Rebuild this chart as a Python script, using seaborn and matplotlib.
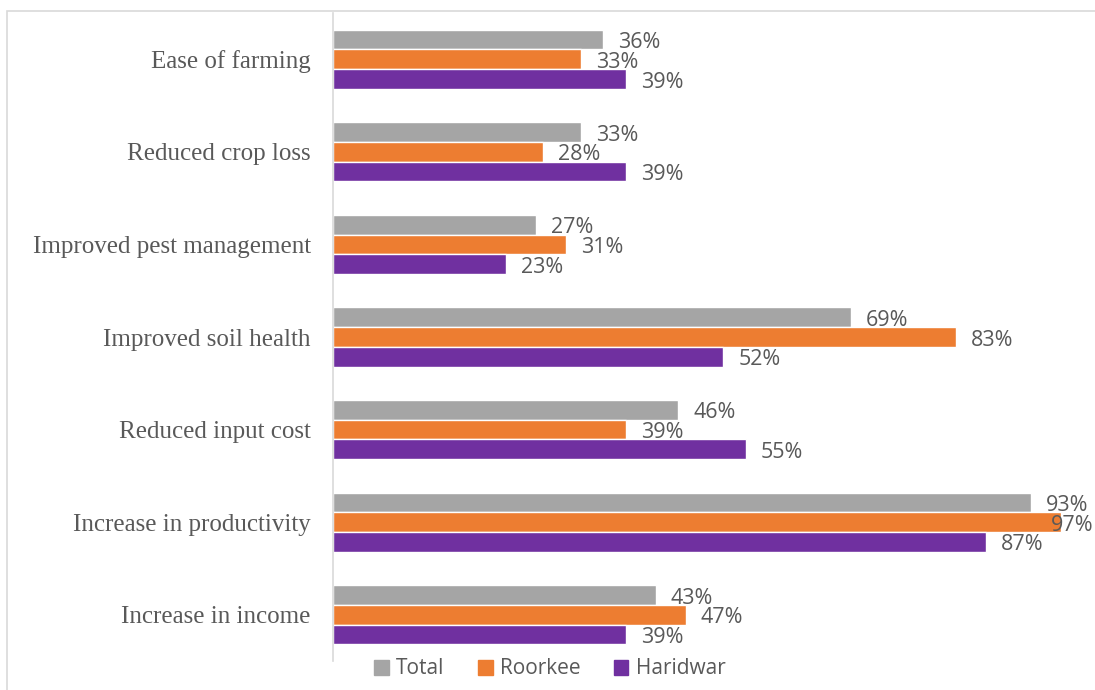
import matplotlib.pyplot as plt
import seaborn as sns
import pandas as pd
from matplotlib.patches import Rectangle

# Benefits reported (top to bottom as shown)
benefits = ['Ease of farming', 'Reduced crop loss', 'Improved pest management',
            'Improved soil health', 'Reduced input cost', 'Increase in productivity',
            'Increase in income']
total = [36, 33, 27, 69, 46, 93, 43]
roorkee = [33, 28, 31, 83, 39, 97, 47]
haridwar = [39, 39, 23, 52, 55, 87, 39]
series = ['Total', 'Roorkee', 'Haridwar']
colors = {'Total': '#A5A5A5', 'Roorkee': '#ED7D31', 'Haridwar': '#7030A0'}

df = pd.DataFrame({
    'Benefit': benefits * 3,
    'Series': ['Total'] * 7 + ['Roorkee'] * 7 + ['Haridwar'] * 7,
    'Value': total + roorkee + haridwar,
})

sns.set_style('white')
fig = plt.figure(figsize=(10.95, 6.9), dpi=100)
ax = fig.add_axes([333 / 1095, 1 - 661 / 690, 750 / 1095, 648 / 690])

sns.barplot(data=df, y='Benefit', x='Value', hue='Series', order=benefits,
            hue_order=series, palette=colors, orient='h', width=0.64,
            saturation=1, ax=ax, legend=False)

labels = []
for cont in ax.containers:
    labels += ax.bar_label(cont, labels=[f'{v:.0f}%' for v in cont.datavalues],
                           padding=11, fontsize=15.5, color='#595959',
                           family='Open Sans', clip_on=False)

ax.set_xlim(0, 100)
ax.set_xlabel('')
ax.set_ylabel('')
ax.set_xticks([])
for s in ['top', 'right', 'bottom']:
    ax.spines[s].set_visible(False)
ax.spines['left'].set_color('#D9D9D9')
ax.spines['left'].set_linewidth(1.2)
ax.tick_params(axis='y', length=0, pad=16)
for lbl in ax.get_yticklabels():
    lbl.set_family('Liberation Serif')
    lbl.set_fontsize(18)
    lbl.set_color('#595959')

# nudge labels a little down, and keep the 97% one inside the picture
fig.canvas.draw()
renderer = fig.canvas.get_renderer()
for t in labels:
    dx, dy = t.xyann
    ext = t.get_window_extent(renderer)
    over = ext.x1 - (fig.bbox.width - 1)
    if over > 0:
        dx -= over * 72 / fig.dpi
    t.xyann = (dx, dy - 2.2)

# legend at the bottom
handles = [Rectangle((0, 0), 1, 1, color=colors[s]) for s in series]
fig.legend(handles, series, loc='center', bbox_to_anchor=(550 / 1095, 1 - 669 / 690),
           ncol=3, frameon=False, handlelength=0.7, handleheight=0.7,
           columnspacing=1.6, handletextpad=0.35,
           prop={'family': 'Open Sans', 'size': 15}, labelcolor='#595959')

# outer chart border
fig.patches.append(Rectangle((7 / 1095, -0.1), 1.2, 1 - 11 / 690 + 0.1,
                             transform=fig.transFigure, fill=False,
                             edgecolor='#D9D9D9', linewidth=1.2))

fig.savefig('out.png', dpi=100)
